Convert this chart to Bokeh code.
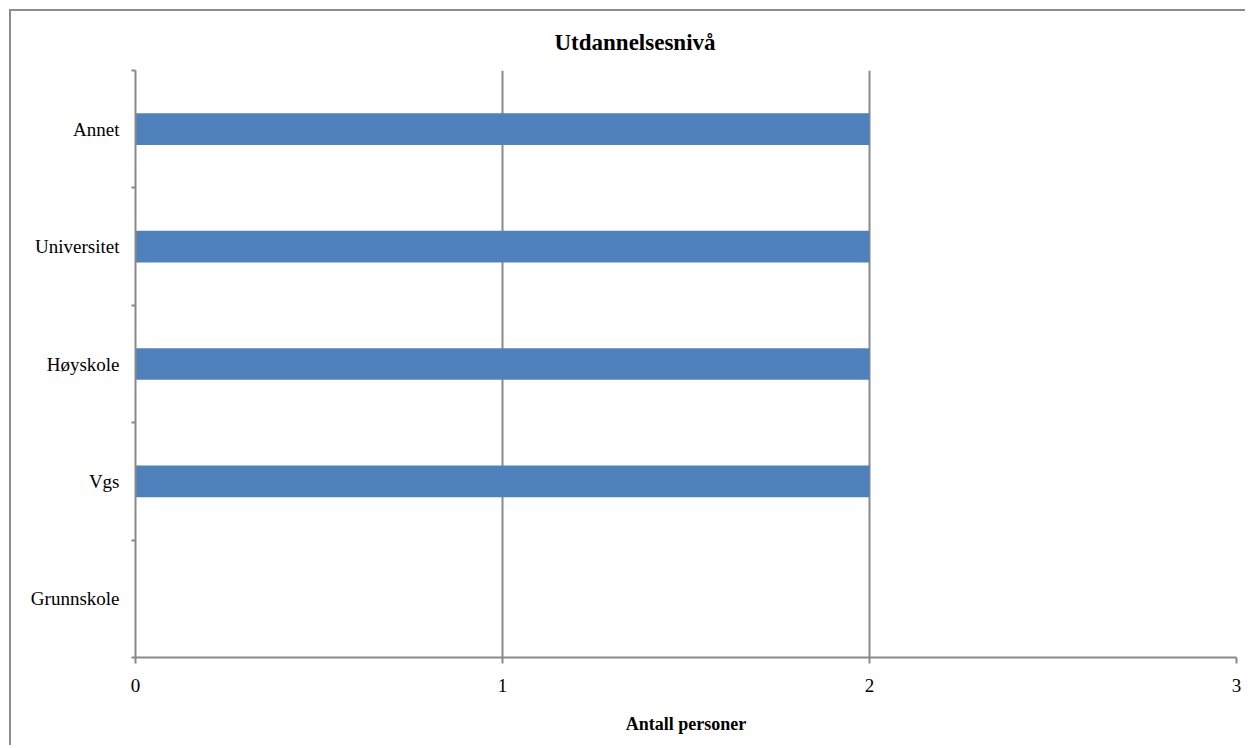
from bokeh.plotting import figure
from bokeh.models import FixedTicker, Range1d
from bokeh.embed import file_html
from bokeh.resources import INLINE

# ---- data ----
categories = ["Grunnskole", "Vgs", "Høyskole", "Universitet", "Annet"]
counts = [0, 2, 2, 2, 2]
x_ticks = [0, 1, 2, 3]
title_text = "Utdannelsesnivå"
x_label = "Antall personer"

ys = [i + 0.5 for i in range(len(categories))]
boundaries = list(range(len(categories) + 1))

FONT = "Liberation Serif"
GRAY = "#898989"

p = figure(width=1236, height=736, output_backend="svg", toolbar_location=None,
           x_range=Range1d(0, 3), y_range=Range1d(0, len(categories)),
           min_border_left=124, min_border_right=11, min_border_top=59, min_border_bottom=90,
           styles={"border-top": "2px solid #8c8c8c", "border-left": "2px solid #8c8c8c",
                   "margin-left": "9px", "margin-top": "9px"})

p.hbar(y=ys, left=0, right=counts, height=0.27, fill_color="#4F81BD", line_color=None)

p.outline_line_color = None
p.ygrid.visible = False
p.xgrid.ticker = FixedTicker(ticks=x_ticks)
p.xgrid.grid_line_color = GRAY
p.xgrid.grid_line_width = 2

# title (centred over the whole chart area, not the frame)
p.title.text = title_text
p.title.align = "left"
p.title.offset = 419
p.title.text_font = FONT
p.title.text_font_size = "23px"
p.title.text_font_style = "bold"
p.title.text_color = "black"
p.title.standoff = 31

# x axis
p.xaxis.ticker = FixedTicker(ticks=x_ticks)
p.xaxis.axis_line_color = GRAY
p.xaxis.axis_line_width = 2
p.xaxis.major_tick_line_color = GRAY
p.xaxis.major_tick_line_width = 2
p.xaxis.major_tick_out = 6
p.xaxis.major_tick_in = 0
p.xaxis.minor_tick_line_color = None
p.xaxis.major_label_text_font = FONT
p.xaxis.major_label_text_font_size = "19px"
p.xaxis.major_label_text_color = "black"
p.xaxis.major_label_standoff = 15
p.xaxis.axis_label = x_label
p.xaxis.axis_label_text_font = FONT
p.xaxis.axis_label_text_font_size = "18px"
p.xaxis.axis_label_text_font_style = "bold"
p.xaxis.axis_label_text_color = "black"
p.xaxis.axis_label_standoff = 19

# y axis
p.yaxis.ticker = FixedTicker(ticks=ys, minor_ticks=boundaries)
p.yaxis.major_label_overrides = {y: c for y, c in zip(ys, categories)}
p.yaxis.axis_line_color = GRAY
p.yaxis.axis_line_width = 2
p.yaxis.major_tick_line_color = None
p.yaxis.major_tick_out = 0
p.yaxis.major_tick_in = 0
p.yaxis.minor_tick_line_color = GRAY
p.yaxis.minor_tick_line_width = 2
p.yaxis.minor_tick_out = 4
p.yaxis.minor_tick_in = 0
p.yaxis.major_label_text_font = FONT
p.yaxis.major_label_text_font_size = "19px"
p.yaxis.major_label_text_color = "black"
p.yaxis.major_label_standoff = 12

open("out.html", "w").write(file_html(p, INLINE))
